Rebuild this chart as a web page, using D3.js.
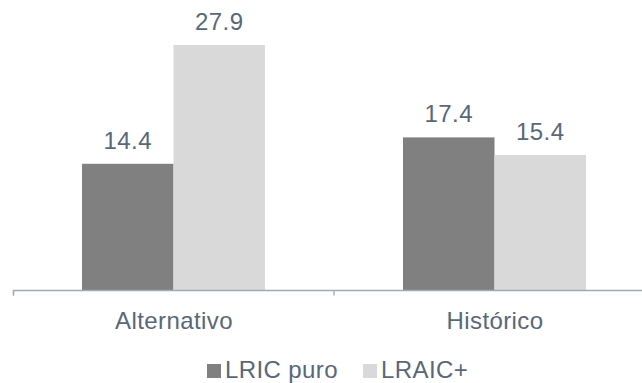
<!DOCTYPE html>
<html><head><meta charset="utf-8">
<script src="https://cdn.jsdelivr.net/npm/d3@7"></script>
<style>body{margin:0;background:#fff}svg{display:block;font-family:"Liberation Sans",Arial,sans-serif}</style>
</head><body><svg id="c" width="642" height="383"></svg>
<script>
const categories = ["Alternativo", "Histórico"];
const seriesNames = ["LRIC puro", "LRAIC+"];
const lricPuro = [14.4, 17.4];
const lraicPlus = [27.9, 15.4];
const colors = ["#808080", "#D9D9D9"];

const svg = d3.select("#c");
const textColor = "#586878";
const fs = 24, ls = 0.4;
const baseY = 290.5;
const x0 = d3.scaleBand().domain(categories).range([13, 655]).paddingInner(0).paddingOuter(0);
const x1 = d3.scaleBand().domain(seriesNames).range([69, 69 + 183]);
const y = d3.scaleLinear().domain([0, 27.9]).range([baseY, 45]);

const data = categories.map((c, i) => ({cat: c, vals: [lricPuro[i], lraicPlus[i]]}));

const g = svg.append("g");
data.forEach(d => {
  d.vals.forEach((v, j) => {
    const xs = x0(d.cat) + x1(seriesNames[j]);
    g.append("rect").attr("x", xs).attr("y", y(v)).attr("width", x1.bandwidth()).attr("height", baseY - y(v)).attr("fill", colors[j]);
    g.append("text").attr("x", xs + x1.bandwidth() / 2).attr("y", y(v) - 15)
      .attr("text-anchor", "middle").attr("font-size", fs).attr("letter-spacing", ls).attr("fill", textColor).text(v.toFixed(1));
  });
});

// axis
const axis = d3.axisBottom(x0).tickSize(5).tickFormat("");
const ag = svg.append("g").attr("transform", `translate(0,${baseY})`).call(axis);
ag.select(".domain").attr("stroke", "#A3A9B0").attr("stroke-width", 1.3).attr("d", "M13.5,5V0H642");
ag.selectAll(".tick").remove();
[13.5, 334].forEach(t => ag.append("line").attr("x1", t).attr("x2", t).attr("y1", 0).attr("y2", 5).attr("stroke", "#A3A9B0").attr("stroke-width", 1.3));
categories.forEach(c => {
  svg.append("text").attr("x", x0(c) + x0.bandwidth() / 2 + 0.5).attr("y", 329)
    .attr("text-anchor", "middle").attr("font-size", fs).attr("letter-spacing", ls).attr("fill", textColor).text(c);
});

// legend
const legX = [207, 363];
seriesNames.forEach((s, j) => {
  svg.append("rect").attr("x", legX[j]).attr("y", 364).attr("width", 14).attr("height", 14).attr("fill", colors[j]);
  svg.append("text").attr("x", legX[j] + 18).attr("y", 378).attr("font-size", fs).attr("letter-spacing", ls).attr("fill", textColor).text(s);
});
</script></body></html>
